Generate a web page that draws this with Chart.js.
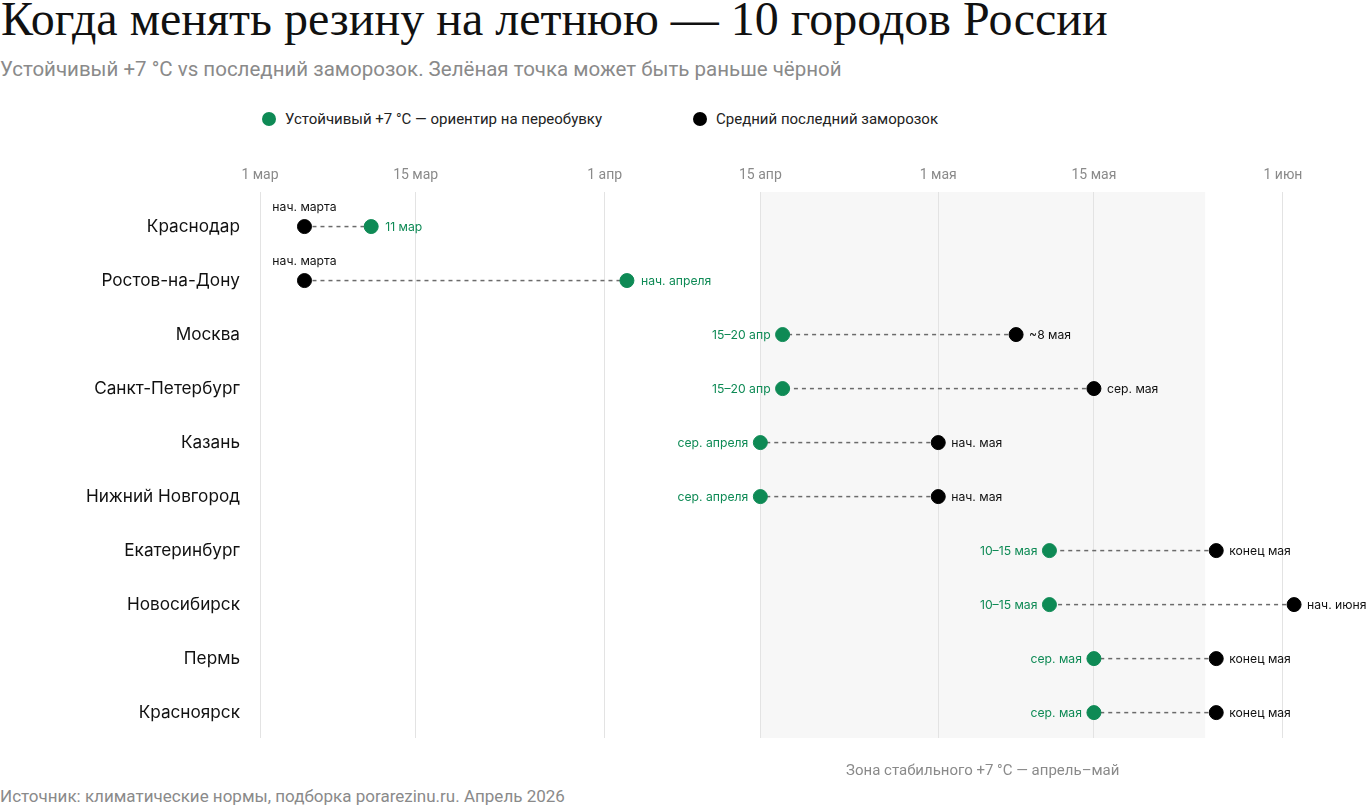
<!DOCTYPE html>
<html lang="ru">
<head>
<meta charset="utf-8">
<title>Когда менять резину на летнюю</title>
<script src="https://cdn.jsdelivr.net/npm/chart.js@4.4.1/dist/chart.umd.min.js"></script>
<style>
  html, body { margin: 0; padding: 0; background: #fff; }
  body { width: 1366px; height: 806px; position: relative; overflow: hidden; font-family: Roboto, "Noto Sans", sans-serif; }
  .title { position: absolute; left: 1px; top: -9px; font-family: "Liberation Serif", "DejaVu Serif", serif; font-size: 48px; color: #111; white-space: nowrap; }
  .subtitle { position: absolute; left: 0; top: 57px; font-size: 20.5px; color: #8a8a8a; white-space: nowrap; }
  .legend { position: absolute; top: 110px; font-size: 15px; color: #222; white-space: nowrap; }
  .legend .dot { display: inline-block; width: 14px; height: 14px; border-radius: 50%; vertical-align: -2px; margin-right: 9px; }
  .footer { position: absolute; left: 0; top: 786px; font-size: 17px; color: #8a8a8a; white-space: nowrap; }
  #wrap { position: absolute; left: 0; top: 140px; width: 1366px; height: 640px; }
</style>
</head>
<body>
<div class="title">Когда менять резину на летнюю — 10 городов России</div>
<div class="subtitle">Устойчивый +7 °C vs последний заморозок. Зелёная точка может быть раньше чёрной</div>
<div class="legend" style="left:262px"><span class="dot" style="background:#0e8a55"></span>Устойчивый +7 °C — ориентир на переобувку</div>
<div class="legend" style="left:693px"><span class="dot" style="background:#000"></span>Средний последний заморозок</div>
<div id="wrap"><canvas id="dumbbell"></canvas></div>
<div class="footer">Источник: климатические нормы, подборка porarezinu.ru. Апрель 2026</div>

<script>
// days counted from 1 March (0 = 1 мар)
var cities = ["Краснодар", "Ростов-на-Дону", "Москва", "Санкт-Петербург", "Казань",
              "Нижний Новгород", "Екатеринбург", "Новосибирск", "Пермь", "Красноярск"];
var warmDays  = [10, 33, 47, 47, 45, 45, 71, 71, 75, 75];   // устойчивый +7 °C
var frostDays = [4, 4, 68, 75, 61, 61, 86, 93, 86, 86];     // последний заморозок
var warmLabels  = ["11 мар", "нач. апреля", "15–20 апр", "15–20 апр", "сер. апреля",
                   "сер. апреля", "10–15 мая", "10–15 мая", "сер. мая", "сер. мая"];
var frostLabels = ["нач. марта", "нач. марта", "~8 мая", "сер. мая", "нач. мая",
                   "нач. мая", "конец мая", "нач. июня", "конец мая", "конец мая"];
var tickDays   = [0, 14, 31, 45, 61, 75, 92];
var tickLabels = ["1 мар", "15 мар", "1 апр", "15 апр", "1 мая", "15 мая", "1 июн"];
var zoneDays = [45, 85];
var zoneLabel = "Зона стабильного +7 °C — апрель–май";

var GREEN = '#0e8a55';

var datasets = [];
cities.forEach(function (c, i) {
    datasets.push({
        type: 'line',
        data: [{x: frostDays[i], y: i}, {x: warmDays[i], y: i}],
        borderColor: '#6b6b6b',
        borderWidth: 1.5,
        borderDash: [4, 4],
        pointRadius: 0,
        order: 3
    });
});
datasets.push({
    type: 'scatter', label: 'warm',
    data: warmDays.map(function (d, i) { return {x: d, y: i}; }),
    backgroundColor: GREEN, borderColor: GREEN, pointRadius: 7, order: 1
});
datasets.push({
    type: 'scatter', label: 'frost',
    data: frostDays.map(function (d, i) { return {x: d, y: i}; }),
    backgroundColor: '#000', borderColor: '#000', pointRadius: 7, order: 2
});

var zonePlugin = {
    id: 'zone',
    beforeDraw: function (chart) {
        var ctx = chart.ctx, a = chart.chartArea, x = chart.scales.x;
        var x0 = x.getPixelForValue(zoneDays[0]), x1 = x.getPixelForValue(zoneDays[1]);
        ctx.save();
        ctx.fillStyle = '#f7f7f7';
        ctx.fillRect(x0, a.top, x1 - x0, a.bottom - a.top);
        ctx.fillStyle = '#8a8a8a';
        ctx.font = '15px Roboto';
        ctx.textAlign = 'center';
        ctx.textBaseline = 'middle';
        ctx.fillText(zoneLabel, (x0 + x1) / 2, a.bottom + 33);
        ctx.restore();
    }
};

var labelPlugin = {
    id: 'pointLabels',
    afterDatasetsDraw: function (chart) {
        var ctx = chart.ctx, xs = chart.scales.x, ys = chart.scales.y;
        ctx.save();
        ctx.font = '12.2px Inter';
        ctx.textBaseline = 'middle';
        cities.forEach(function (c, i) {
            var y = ys.getPixelForValue(i);
            var gx = xs.getPixelForValue(warmDays[i]);
            var bx = xs.getPixelForValue(frostDays[i]);
            if (warmDays[i] > frostDays[i]) {
                ctx.fillStyle = GREEN;
                ctx.textAlign = 'left';
                ctx.fillText(warmLabels[i], gx + 14, y + 1);
                ctx.fillStyle = '#111';
                ctx.textAlign = 'center';
                ctx.fillText(frostLabels[i], bx, y - 19);
            } else {
                ctx.fillStyle = GREEN;
                ctx.textAlign = 'right';
                ctx.fillText(warmLabels[i], gx - 12, y + 1);
                ctx.fillStyle = '#111';
                ctx.textAlign = 'left';
                ctx.fillText(frostLabels[i], bx + 13, y + 1);
            }
        });
        ctx.restore();
    }
};

new Chart(document.getElementById('dumbbell').getContext('2d'), {
    data: { datasets: datasets },
    options: {
        responsive: true,
        maintainAspectRatio: false,
        animation: false,
        layout: { padding: { top: 0, right: 0, bottom: 42, left: 0 } },
        plugins: { legend: { display: false }, tooltip: { enabled: false } },
        scales: {
            x: {
                type: 'linear', position: 'top',
                min: 0, max: 98.75,
                afterBuildTicks: function (s) { s.ticks = tickDays.map(function (v) { return {value: v}; }); },
                afterFit: function (s) { s.height = 52; },
                ticks: {
                    autoSkip: false, maxRotation: 0, padding: 8,
                    color: '#8a8a8a', font: { family: 'Roboto', size: 14 },
                    callback: function (v) { var k = tickDays.indexOf(v); return k < 0 ? '' : tickLabels[k]; }
                },
                grid: { color: '#e3e3e3', lineWidth: 1, drawTicks: false },
                border: { display: false }
            },
            y: {
                type: 'linear', reverse: true,
                min: -0.64, max: 9.47,
                afterBuildTicks: function (s) { s.ticks = cities.map(function (c, i) { return {value: i}; }); },
                afterFit: function (s) { s.width = 260; },
                ticks: {
                    autoSkip: false, padding: 20,
                    color: '#111', font: { family: 'Inter', size: 17.2 },
                    callback: function (v) { return cities[v] || ''; }
                },
                grid: { display: false, drawTicks: false },
                border: { display: false }
            }
        }
    },
    plugins: [zonePlugin, labelPlugin]
});
</script>
</body>
</html>
